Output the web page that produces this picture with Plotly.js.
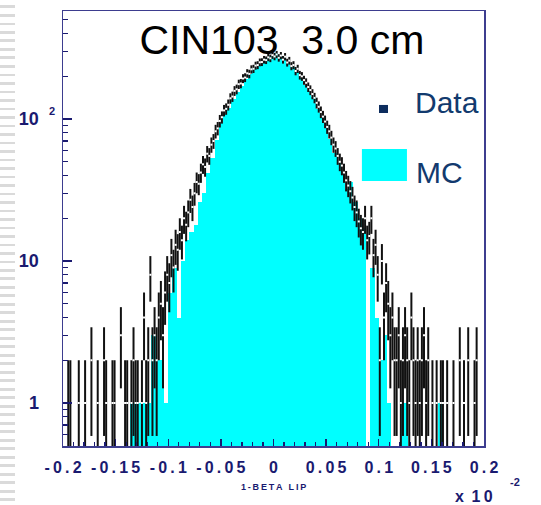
<!DOCTYPE html>
<html><head><meta charset="utf-8">
<script src="https://cdn.plot.ly/plotly-3.0.1.min.js"></script>
<style>
html,body{margin:0;padding:0;background:#fff;}
#strip{position:absolute;left:0;top:0;width:15px;height:505px;background:repeating-linear-gradient(to bottom,#fff 0px,#fff 5.5px,#dadada 5.5px,#dadada 8.5px);}
#chart{position:absolute;left:0;top:0;width:541px;height:505px;}
</style></head><body>
<div id="strip"></div><div id="chart"></div>
<script>
// histogram range (units of 10^-2)
const histRange = [-0.2, 0.2];

// MC histogram, 100 bins
const mcCounts = [
  0,0,0,0,0,0,0,0,0,0,
  0,0,0,0,0,0,1,1,1,1,
  1,3,2,2,1,6,9,4,10,14,
  16,18,26,30,42,53,71,94,108,120,
  138,155,172,192,206,228,240,250,268,278,
  290,280,272,250,232,215,196,175,160,143,
  118,103,86,72,58,49,42,32,36,26,
  20,17,0,9,4,2,3,1,0,0,
  1,1,0,0,0,0,0,0,0,1,
  0,0,0,0,0,0,0,0,0,0
];

// Data histogram, 200 bins
const dataCounts = [
  0,0,1,1,0,0,0,1,0,0,
  1,0,0,2,0,0,1,0,0,2,
  1,0,0,1,1,0,0,3,0,1,
  1,0,1,2,1,1,0,1,4,1,
  2,8,2,3,2,4,5,3,6,8,
  7,11,9,13,12,16,14,20,18,22,
  27,24,30,36,35,42,48,46,57,55,
  66,70,82,86,97,103,115,118,126,140,
  144,158,162,176,178,193,196,210,208,224,
  226,238,240,251,252,262,260,272,268,282,
  276,285,270,280,262,275,250,258,236,240,
  218,226,204,200,188,180,168,160,150,141,
  130,122,112,104,96,88,82,74,66,62,
  55,50,47,42,37,34,31,28,24,22,
  19,17,16,20,14,15,20,11,13,8,
  2,10,4,7,5,3,4,2,2,3,
  1,2,3,2,1,4,2,1,2,1,
  2,3,1,2,0,1,0,1,0,1,
  1,0,1,0,0,1,0,0,2,0,
  1,0,2,0,0,1,2,0,0,0
];

const xTickVals = [-0.2,-0.15,-0.1,-0.05,0,0.05,0.1,0.15,0.2];
const xTickText = ['-0.2','-0.15','-0.1','-0.05','0','0.05','0.1','0.15','0.2'];
const yTickVals = [1,10,100];
const yTickText = ['1','10','10'];
const yMinorVals = [0.6,0.7,0.8,0.9,2,3,4,5,6,7,8,9,20,30,40,50,60,70,80,90,200,300,400,500];
const titleText = 'CIN103\u00a0\u00a03.0 cm';
const xTitleText = '1-BETA LIP';
const legendLabels = ['Data','MC'];

const navy = '#1a1a70';
const frame = '#3d3d8f';
const legNavy = '#123a6e';
const thin = '\u2009';
const spaced = s => s.split('').join(thin);
const bold = s => '<b>' + s + '</b>';

const mcW = (histRange[1]-histRange[0])/mcCounts.length;
const dW = (histRange[1]-histRange[0])/dataCounts.length;
const mcX = mcCounts.map((_,i)=>histRange[0]+(i+0.5)*mcW);
const dX = dataCounts.map((_,i)=>histRange[0]+(i+0.5)*dW);

const traces = [
  {type:'bar', x:mcX, y:mcCounts.map(v=>v>0?v:null), width:mcW,
   marker:{color:'#00ffff', line:{width:0}}, hoverinfo:'skip'},
  {type:'scatter', mode:'markers', x:dX, y:dataCounts.map(v=>v>0?v:null),
   error_y:{type:'data', array:dataCounts.map(v=>Math.sqrt(v)), visible:true, color:'#111', thickness:2, width:0},
   marker:{symbol:'square', size:2, color:'#ffffff'}, hoverinfo:'skip'}
];

const layout = {
  width:541, height:505,
  margin:{l:63, r:57, t:11, b:59, pad:0},
  paper_bgcolor:'rgba(0,0,0,0)', plot_bgcolor:'#ffffff',
  showlegend:false, bargap:0,
  font:{family:'Liberation Sans, Arial, sans-serif'},
  title:{text:titleText, font:{size:41, color:'#000'}, xref:'paper', x:0.52, xanchor:'center', yref:'container', y:0.921, yanchor:'middle'},
  xaxis:{range:histRange, tickmode:'array', tickvals:xTickVals, ticktext:xTickText.map(t=>bold(spaced(t))),
    ticks:'inside', ticklen:7, tickwidth:1.3, tickcolor:navy,
    minor:{tickmode:'linear', tick0:0, dtick:0.01, ticks:'inside', ticklen:4, tickwidth:1.3, tickcolor:navy, showgrid:false},
    showline:true, linecolor:frame, linewidth:1.5, mirror:true, showgrid:false, zeroline:false,
    tickfont:{size:16, color:navy}, ticklabelstandoff:6},
  yaxis:{type:'log', range:[-0.303, 2.761], tickmode:'array', tickvals:yTickVals, ticktext:yTickText.map(bold),
    ticks:'inside', ticklen:9, tickwidth:1.5, tickcolor:navy,
    minor:{tickmode:'array', tickvals:yMinorVals, ticks:'inside', ticklen:5, tickwidth:1.3, tickcolor:navy, showgrid:false},
    showline:true, linecolor:frame, linewidth:1.5, mirror:true, showgrid:false, zeroline:false,
    tickfont:{size:18, color:navy}, ticklabelstandoff:19},
  annotations:[
    {text:bold('2'), xref:'paper', yref:'y', x:-0.025, y:Math.log10(yTickVals[2]), yshift:8, showarrow:false, xanchor:'center', yanchor:'middle', font:{size:11, color:navy}},
    {text:bold(spaced(xTitleText)), xref:'paper', yref:'paper', x:0.499, y:-0.094, showarrow:false, xanchor:'center', yanchor:'middle', font:{size:9, color:navy}},
    {text:bold('x'+thin+' 1'+thin+'0'), xref:'paper', yref:'paper', x:1.026, y:-0.117, showarrow:false, xanchor:'right', yanchor:'middle', font:{size:16, color:navy}},
    {text:bold('-2'), xref:'paper', yref:'paper', x:1.057, y:-0.083, showarrow:false, xanchor:'left', yanchor:'middle', font:{size:11, color:navy}},
    {text:legendLabels[0], xref:'paper', yref:'paper', x:0.831, y:0.790, showarrow:false, xanchor:'left', yanchor:'middle', font:{size:30, color:legNavy}},
    {text:legendLabels[1], xref:'paper', yref:'paper', x:0.834, y:0.629, showarrow:false, xanchor:'left', yanchor:'middle', font:{size:30, color:legNavy}}
  ],
  shapes:[
    {type:'rect', xref:'paper', yref:'paper', x0:0.7506, x1:0.772, y0:0.7655, y1:0.784, fillcolor:'#0d2d5e', line:{width:0}},
    {type:'rect', xref:'paper', yref:'paper', x0:0.710, x1:0.817, y0:0.609, y1:0.683, fillcolor:'#00ffff', line:{width:0}}
  ]
};

Plotly.newPlot('chart', traces, layout, {staticPlot:true, displayModeBar:false});
</script>
</body></html>
